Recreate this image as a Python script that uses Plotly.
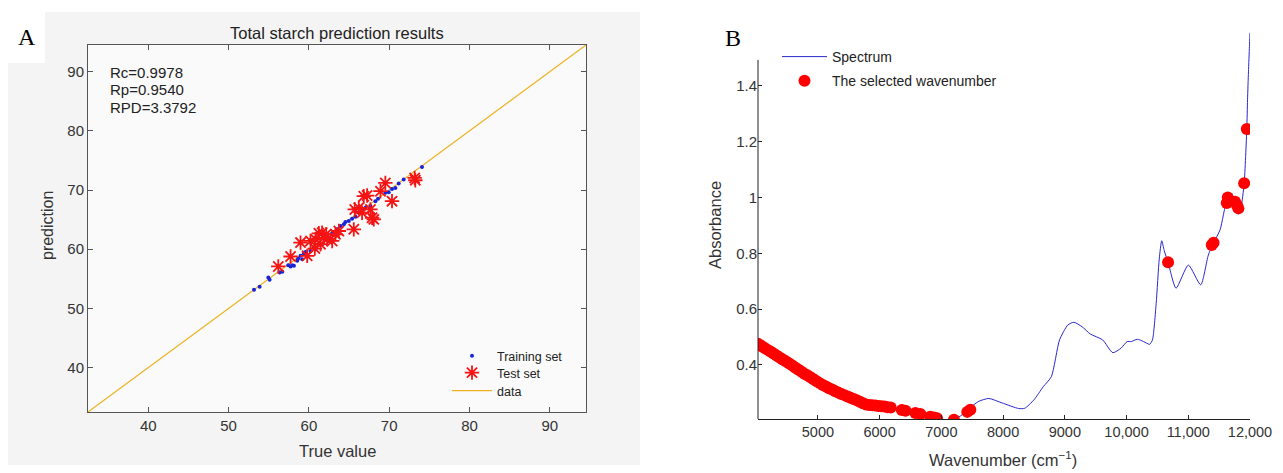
import plotly.graph_objects as go

W, H = 1283, 473

# ---------------- Panel A data ----------------
train_true = [53.17, 53.87, 54.95, 55.11, 56.36, 56.69, 57.43, 57.72, 58.14, 58.67, 58.96, 59.38,
              59.58, 60.20, 60.62, 61.24, 61.98, 62.27, 62.90, 63.52, 63.93, 64.35, 64.55, 64.97,
              65.38, 65.80, 66.21, 66.71, 67.04, 67.66, 68.28, 68.61, 69.52, 69.94, 70.35, 70.77,
              71.18, 71.80, 74.08, 59.17, 59.79, 60.83, 61.65, 62.48, 63.31, 58.55, 57.93]
train_pred = [53.16, 53.67, 55.24, 54.84, 56.08, 56.19, 57.31, 57.09, 57.20, 58.43, 58.88, 59.27,
              59.55, 59.72, 60.28, 60.84, 61.68, 62.13, 62.69, 63.36, 63.92, 64.20, 64.59, 64.76,
              65.15, 65.49, 66.16, 66.72, 67.00, 67.28, 68.12, 68.51, 69.52, 69.63, 70.19, 70.36,
              71.09, 71.76, 73.89, 58.32, 58.88, 60.00, 60.84, 61.40, 62.52, 58.04, 57.31]
test_true = [56.19, 57.72, 58.96, 59.79, 60.20, 60.74, 61.24, 61.65, 61.86, 62.15, 61.45, 62.90,
             63.31, 63.73, 65.59, 66.21, 66.83, 67.25, 67.66, 67.87, 68.08, 68.91, 69.52, 70.35,
             73.17, 73.25, 65.71, 66.62, 60.83, 62.27]
test_pred = [57.09, 58.77, 61.12, 58.88, 61.40, 60.11, 62.69, 62.80, 61.96, 62.52, 60.84, 61.40,
             62.52, 63.08, 63.36, 67.00, 68.96, 69.07, 66.72, 65.32, 65.04, 69.80, 71.20, 68.12,
             72.04, 71.65, 66.72, 66.16, 61.68, 61.68]
diag_vals = [32.5, 94.5]
a_ticks = [40, 50, 60, 70, 80, 90]
stats_lines = ["Rc=0.9978", "Rp=0.9540", "RPD=3.3792"]

# ---------------- Panel B data ----------------
spec_wn = [4030, 4274, 4543, 4812, 5081, 5349, 5618, 5780, 5995, 6183, 6371, 6586, 6801, 6962,
           7070, 7204, 7339, 7446, 7608, 7769, 7984, 8253, 8351, 8500, 8650, 8782, 8915, 9048,
           9147, 9280, 9413, 9612, 9778, 9910, 10010, 10076, 10176, 10275, 10375, 10420, 10480,
           10530, 10570, 10610, 10673, 10802, 11001, 11201, 11325, 11406, 11515, 11623, 11677,
           11758, 11812, 11851, 11905, 11948, 11960, 11975, 11991, 12000]
spec_abs = [0.476, 0.442, 0.404, 0.365, 0.328, 0.299, 0.275, 0.258, 0.253, 0.248, 0.240, 0.228,
            0.216, 0.207, 0.202, 0.204, 0.222, 0.244, 0.270, 0.280, 0.264, 0.244, 0.245, 0.275,
            0.322, 0.358, 0.490, 0.543, 0.553, 0.537, 0.511, 0.490, 0.444, 0.460, 0.484, 0.484,
            0.492, 0.484, 0.474, 0.490, 0.620, 0.780, 0.845, 0.810, 0.768, 0.675, 0.758, 0.687,
            0.794, 0.836, 0.884, 0.991, 1.009, 0.985, 0.961, 0.967, 1.051, 1.245, 1.350, 1.450,
            1.541, 1.590]
sel_wn = [4030, 4080, 4130, 4180, 4230, 4280, 4330, 4380, 4430, 4480, 4530, 4580, 4630, 4680,
          4730, 4780, 4830, 4880, 4930, 4980, 5030, 5080, 5130, 5180, 5230, 5280, 5330, 5380,
          5430, 5480, 5530, 5580, 5630, 5680, 5730, 5780, 5830, 5880, 5930, 5980, 6030, 6080,
          6130, 6180, 6360, 6420, 6580, 6660, 6820, 6880, 6930, 7204, 7420, 7470,
          10673, 11380, 11410, 11623, 11640, 11758, 11790, 11812, 11905, 11948]
sel_abs = [0.476, 0.469, 0.462, 0.455, 0.448, 0.441, 0.434, 0.427, 0.420, 0.413, 0.406, 0.399,
           0.391, 0.384, 0.377, 0.369, 0.363, 0.356, 0.349, 0.342, 0.335, 0.328, 0.323, 0.317,
           0.312, 0.306, 0.301, 0.296, 0.292, 0.287, 0.283, 0.278, 0.274, 0.268, 0.263, 0.258,
           0.257, 0.256, 0.255, 0.253, 0.252, 0.251, 0.249, 0.248, 0.239, 0.236, 0.228, 0.224,
           0.215, 0.212, 0.209, 0.204, 0.232, 0.240,
           0.768, 0.830, 0.838, 0.980, 1.000, 0.985, 0.972, 0.961, 1.051, 1.245]
b_tickvals = [5000, 6000, 7000, 8000, 9000, 10000, 11000, 12000]
b_ticktext = ["5000", "6000", "7000", "8000", "9000", "10,000", "11,000", "12,000"]
b_yvals = [0.4, 0.6, 0.8, 1.0, 1.2, 1.4]
b_ytext = ["0.4", "0.6", "0.8", "1", "1.2", "1.4"]


def fx(p):
    """window pixel x -> paper fraction"""
    return p / W


def fy(p):
    """window pixel y (from top) -> paper fraction"""
    return 1 - p / H


SANS = "Liberation Sans, Arial, sans-serif"
SERIF = "Liberation Serif, Times New Roman, serif"
RED = "rgb(245,20,20)"

fig = go.Figure()

# Panel A traces (each legend entry in its own small legend box for exact row spacing)
fig.add_trace(go.Scatter(x=diag_vals, y=diag_vals, mode="lines", name="data",
                         line=dict(color="#EDB120", width=1.2), xaxis="x", yaxis="y",
                         legend="legend4"))
fig.add_trace(go.Scatter(x=train_true, y=train_pred, mode="markers", name="Training set",
                         marker=dict(color="rgb(25,35,215)", size=4), xaxis="x", yaxis="y",
                         legend="legend"))
fig.add_trace(go.Scatter(x=test_true, y=test_pred, mode="markers", name="Test set",
                         marker=dict(symbol="asterisk-open", size=12, color=RED,
                                     line=dict(color=RED, width=1.8)),
                         xaxis="x", yaxis="y", legend="legend3"))

# Panel B traces
fig.add_trace(go.Scatter(x=spec_wn, y=spec_abs, mode="lines", name="Spectrum",
                         line=dict(color="rgb(40,40,205)", width=1, shape="spline", smoothing=0.6),
                         xaxis="x2", yaxis="y2", legend="legend2", legendgroup="spec"))
fig.add_trace(go.Scatter(x=sel_wn, y=sel_abs, mode="markers", name="The selected wavenumber",
                         marker=dict(color="#ff0000", size=12), xaxis="x2", yaxis="y2",
                         legend="legend2", legendgroup="sel"))

axis_a = dict(showgrid=False, zeroline=False, showline=True, linecolor="#555555", linewidth=1,
              mirror="ticks", ticks="inside", ticklen=5, tickcolor="#555555",
              tickfont=dict(family=SANS, size=15, color="#333333"), tickvals=a_ticks,
              range=[32.5, 94.5])

legend_a = dict(xanchor="left", yanchor="top", bgcolor="rgba(0,0,0,0)", itemwidth=40,
                tracegroupgap=0, font=dict(family=SANS, size=12.5, color="#222222"))

fig.update_layout(
    width=W, height=H,
    margin=dict(l=0, r=0, t=0, b=0, autoexpand=False),
    paper_bgcolor="white",
    plot_bgcolor="rgba(0,0,0,0)",
    xaxis=dict(axis_a, domain=[fx(88), fx(586)], anchor="y"),
    yaxis=dict(axis_a, domain=[fy(412), fy(45)], anchor="x"),
    xaxis2=dict(domain=[fx(758), fx(1250)], anchor="y2", range=[4030, 12000],
                showgrid=False, zeroline=False, showline=True, linecolor="#222222",
                linewidth=1, ticks="inside", ticklen=4, tickcolor="#222222",
                tickvals=b_tickvals, ticktext=b_ticktext,
                tickfont=dict(family=SANS, size=14.5, color="#333333")),
    yaxis2=dict(domain=[fy(419), fy(30)], anchor="x2", range=[0.2065, 1.6],
                showgrid=False, zeroline=False, showline=False, ticks="inside",
                ticklen=4, tickcolor="#222222", tickvals=b_yvals, ticktext=b_ytext,
                tickfont=dict(family=SANS, size=15, color="#333333")),
    legend=dict(legend_a, x=fx(447), y=fy(341)),
    legend3=dict(legend_a, x=fx(447), y=fy(358)),
    legend4=dict(legend_a, x=fx(447), y=fy(376)),
    legend2=dict(x=fx(777), y=fy(41), xanchor="left", yanchor="top",
                 bgcolor="rgba(0,0,0,0)", itemwidth=45, tracegroupgap=3,
                 traceorder="grouped",
                 font=dict(family=SANS, size=14, color="#222222")),
    showlegend=True,
)

shapes = [
    dict(type="rect", xref="paper", yref="paper", x0=fx(8), x1=fx(640), y0=fy(465), y1=fy(12),
         fillcolor="#f4f4f4", line=dict(width=0), layer="below"),
    dict(type="rect", xref="paper", yref="paper", x0=0, x1=fx(45), y0=fy(63), y1=1,
         fillcolor="white", line=dict(width=0), layer="below"),
    dict(type="rect", xref="x domain", yref="y domain", x0=0, x1=1, y0=0, y1=1,
         fillcolor="#fafafa", line=dict(width=0), layer="below"),
    dict(type="line", xref="x2 domain", yref="y2", x0=0, x1=0, y0=0.2065, y1=1.493,
         line=dict(color="#222222", width=1)),
]
fig.update_layout(shapes=shapes)

ann = [
    dict(text="A", x=fx(27), y=fy(37), font=dict(family=SERIF, size=24, color="black")),
    dict(text="B", x=fx(733), y=fy(38), font=dict(family=SERIF, size=24, color="black")),
    dict(text="Total starch prediction results", x=fx(337), y=fy(33),
         font=dict(family=SANS, size=16.5, color="#222222")),
    dict(text="True value", x=fx(337), y=fy(451), font=dict(family=SANS, size=16.5, color="#333333")),
    dict(text="prediction", x=fx(47), y=fy(226), textangle=-90,
         font=dict(family=SANS, size=16, color="#333333")),
    dict(text="Absorbance", x=fx(715), y=fy(225), textangle=-90,
         font=dict(family=SANS, size=16.5, color="#333333")),
    dict(text="Wavenumber (cm<sup>\u22121</sup>)", x=fx(1003), y=fy(459),
         font=dict(family=SANS, size=16.5, color="#333333")),
]
for i, s in enumerate(stats_lines):
    ann.append(dict(text=s, x=fx(108), y=fy(73 + 17 * i), xanchor="left",
                    font=dict(family=SANS, size=15, color="#222222")))
for a in ann:
    a.setdefault("xref", "paper")
    a.setdefault("yref", "paper")
    a.setdefault("showarrow", False)
    a.setdefault("xanchor", "center")
    a.setdefault("yanchor", "middle")
fig.update_layout(annotations=ann)

# remove the default page margin so the 1283x473 figure fills the window exactly
page_js = ("document.body.style.margin='0';document.body.style.padding='0';"
           "document.body.style.overflow='hidden';"
           "document.documentElement.style.overflow='hidden';")
fig.write_html("out.html", post_script=page_js, config={"displayModeBar": False})
